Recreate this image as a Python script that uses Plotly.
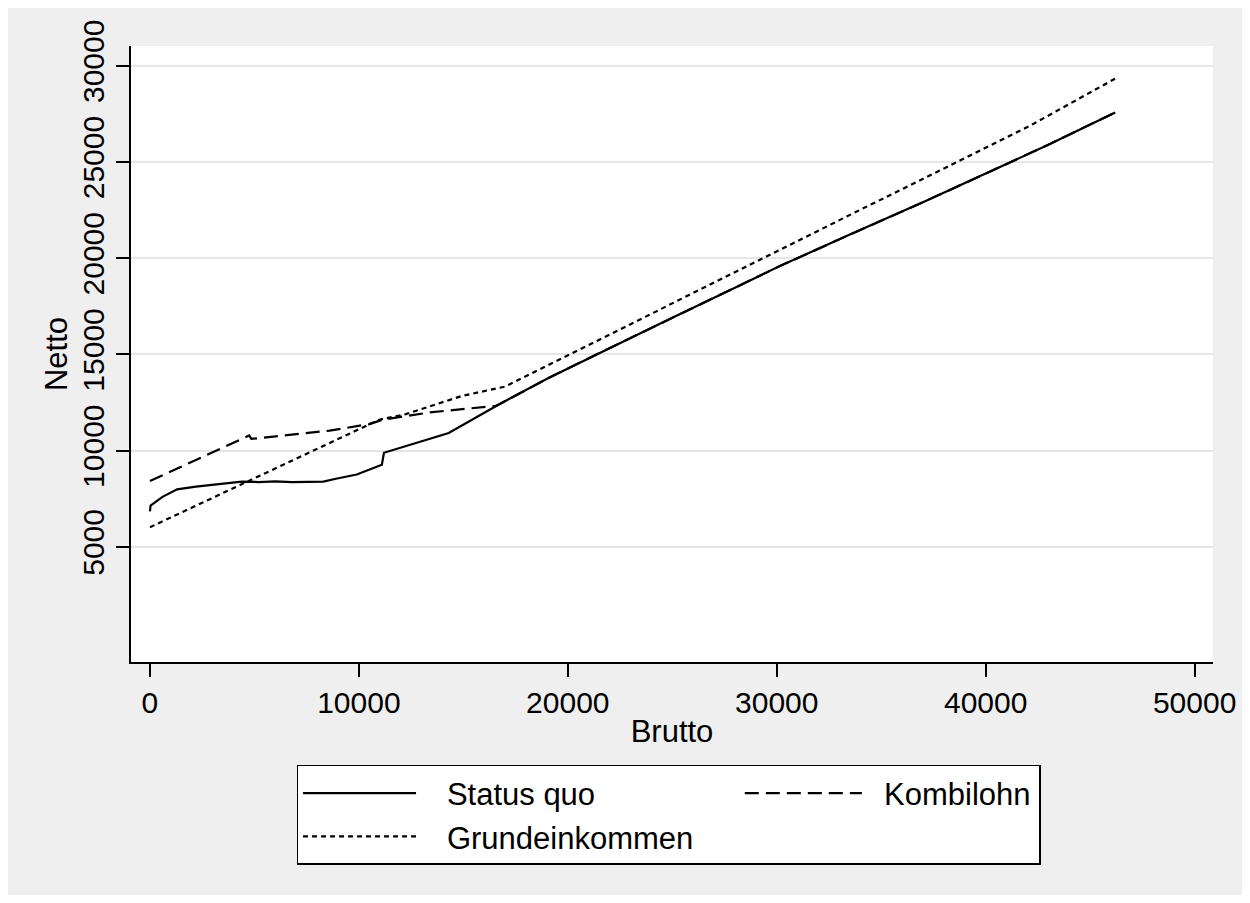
import plotly.graph_objects as go

# Brutto (x) / Netto (y) values
sq_x = [0, 30, 600, 1300, 2200, 4400, 5200, 6000, 6800, 7600, 8300, 8900, 9900, 11100, 11200,
        14300, 16700, 19100, 21500, 25000, 28400, 30100, 33500, 37100, 40000, 43000, 46200]
sq_y = [6850, 7150, 7600, 7990, 8130, 8390, 8370, 8400, 8360, 8390, 8390, 8540, 8760, 9270, 9890,
        10920, 12400, 13790, 15070, 16910, 18680, 19570, 21230, 22960, 24400, 25900, 27580]

kl_x = [0, 4300, 4750, 4850, 8600, 10500, 11150, 13400, 16550, 16700,
        19100, 21500, 25000, 28400, 30100, 33500, 37100, 40000, 43000, 46200]
kl_y = [8420, 10530, 10790, 10610, 11040, 11380, 11610, 11990, 12330, 12400,
        13790, 15070, 16910, 18680, 19570, 21230, 22960, 24400, 25900, 27580]

ge_x = [0, 4460, 10980, 12250, 14950, 17000, 21480, 26000, 30070, 34000, 38030, 42160, 46190]
ge_y = [6020, 8300, 11610, 11900, 12850, 13330, 15760, 18210, 20420, 22520, 24680, 26910, 29330]

series_names = ["Status quo", "Kombilohn", "Grundeinkommen"]
x_ticks = [0, 10000, 20000, 30000, 40000, 50000]
y_ticks = [5000, 10000, 15000, 20000, 25000, 30000]

FONT = "Liberation Sans, Arial, Helvetica, sans-serif"
FS_TICK = 30
FS_TEXT = 31
NB = "\u00a0"  # spacing between legend line sample and text

W, H = 1240, 887
ml, mr, mt, mb = 123, 32, 32, 233
pw, ph = W - ml - mr, H - mt - mb

# page offset of the figure (browser body margin)
OFF = 8
leg_top_y = (mt + ph - (766 - OFF)) / ph

fig = go.Figure()
fig.add_trace(go.Scatter(x=sq_x, y=sq_y, mode="lines", name=NB * 3 + series_names[0],
                         line=dict(color="black", width=2.2), legend="legend"))
fig.add_trace(go.Scatter(x=kl_x, y=kl_y, mode="lines", name=NB * 2 + series_names[1],
                         line=dict(color="black", width=2.2, dash="14px,7px"), legend="legend2"))
fig.add_trace(go.Scatter(x=ge_x, y=ge_y, mode="lines", name=NB * 3 + series_names[2],
                         line=dict(color="black", width=2.2, dash="5px,4px"), legend="legend"))

fig.update_layout(
    width=W, height=H,
    margin=dict(l=ml, r=mr, t=mt, b=mb, pad=0),
    paper_bgcolor="#efefef",
    plot_bgcolor="white",
    font=dict(family=FONT, size=FS_TICK, color="black"),
    showlegend=True,
    legend=dict(
        orientation="h",
        x=(297 - OFF - ml) / pw, xanchor="left",
        y=leg_top_y, yanchor="top",
        bgcolor="white", bordercolor="black", borderwidth=1.5,
        font=dict(family=FONT, size=FS_TEXT, color="black"),
        itemwidth=113,
        entrywidth=613,
        traceorder="normal",
    ),
    legend2=dict(
        orientation="h",
        x=(740 - OFF - ml) / pw, xanchor="left",
        y=leg_top_y, yanchor="top",
        bgcolor="rgba(0,0,0,0)", bordercolor="rgba(0,0,0,0)", borderwidth=1.5,
        font=dict(family=FONT, size=FS_TEXT, color="black"),
        itemwidth=117,
    ),
    xaxis=dict(
        range=[-907, 50880],
        tickmode="array", tickvals=x_ticks, ticktext=[str(v) for v in x_ticks],
        ticks="outside", ticklen=13, tickwidth=2, tickcolor="black",
        showline=True, linecolor="black", linewidth=2,
        showgrid=False, zeroline=False,
        title=dict(text="Brutto", standoff=2, font=dict(size=FS_TEXT)),
        tickfont=dict(size=FS_TICK),
    ),
    yaxis=dict(
        range=[-983, 31030],
        tickmode="array", tickvals=y_ticks, ticktext=[str(v) for v in y_ticks],
        ticks="outside", ticklen=13, tickwidth=2, tickcolor="black",
        tickangle=-90,
        showline=True, linecolor="black", linewidth=2,
        showgrid=True, gridcolor="#e6e6e6", gridwidth=2,
        zeroline=False,
        title=dict(text="Netto", standoff=0, font=dict(size=FS_TEXT)),
        tickfont=dict(size=FS_TICK),
    ),
)

fig.write_html("out.html")
